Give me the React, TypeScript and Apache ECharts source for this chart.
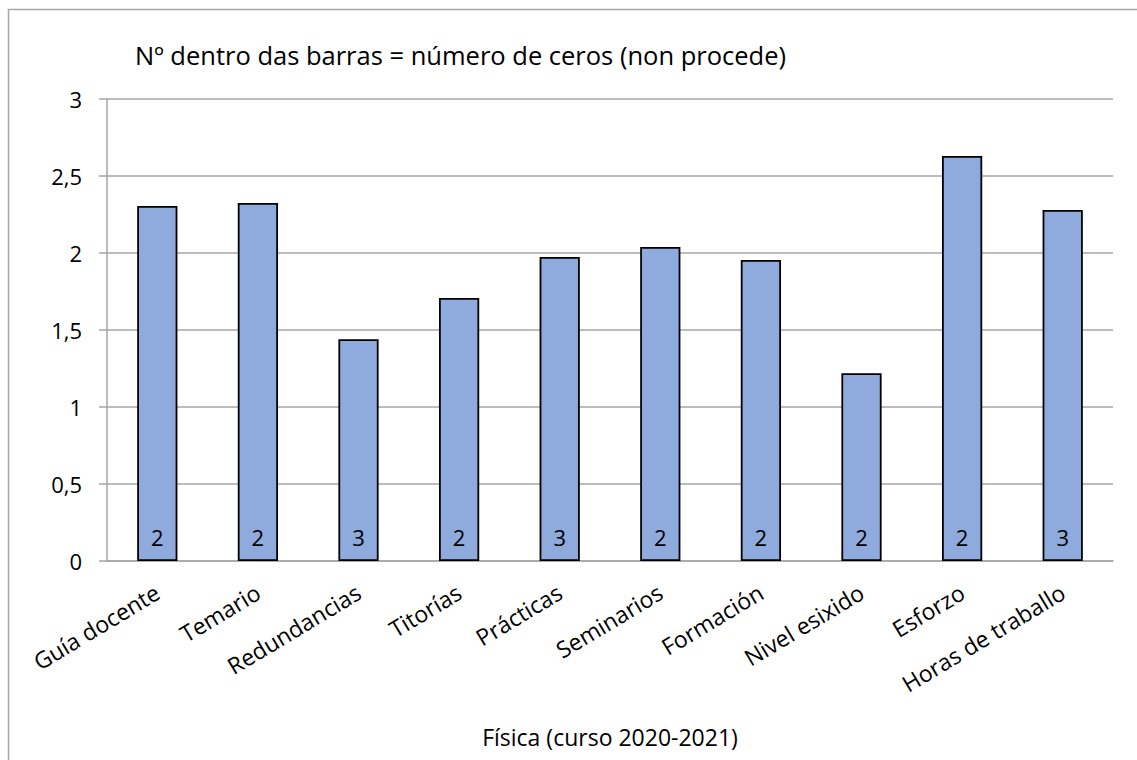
import React, { useEffect, useRef } from "react";
import * as echarts from "echarts";

const categories = [
  "Guía docente",
  "Temario",
  "Redundancias",
  "Titorías",
  "Prácticas",
  "Seminarios",
  "Formación",
  "Nivel esixido",
  "Esforzo",
  "Horas de traballo",
];
const values = [2.305, 2.325, 1.44, 1.708, 1.974, 2.039, 1.955, 1.219, 2.63, 2.279];
const zeros = [2, 2, 3, 2, 3, 2, 2, 2, 2, 3];
const yTicks = { min: 0, max: 3, interval: 0.5 };
const titleText = "Nº dentro das barras = número de ceros (non procede)";
const axisName = "Física (curso 2020-2021)";

const FONT = "'Open Sans', 'Noto Sans', sans-serif";

export default function App() {
  const ref = useRef<HTMLDivElement>(null);
  useEffect(() => {
    if (!ref.current) return;
    const chart = echarts.init(ref.current, null, { renderer: "svg" });
    chart.setOption({
      animation: false,
      backgroundColor: "#ffffff",
      textStyle: { fontFamily: FONT },
      title: {
        text: titleText,
        left: 130,
        top: 37,
        textStyle: { fontFamily: FONT, fontSize: 25.5, fontWeight: "normal", color: "#000" },
      },
      graphic: [
        {
          type: "rect",
          shape: { x: 8.5, y: 9.5, width: 1160, height: 780 },
          style: { fill: "none", stroke: "#a6a6a6", lineWidth: 1.5 },
          silent: true,
        },
        {
          type: "text",
          x: 610,
          y: 737,
          style: {
            text: axisName,
            fontFamily: FONT,
            fontSize: 23,
            fill: "#000",
            align: "center",
            verticalAlign: "middle",
          },
        },
      ],
      grid: { left: 107, right: 24, top: 99, bottom: 199, containLabel: false },
      xAxis: {
        type: "category",
        data: categories,
        axisTick: { show: false },
        axisLine: { show: true, lineStyle: { color: "#a6a6a6", width: 1.5 } },
        axisLabel: {
          rotate: 31,
          margin: 29,
          fontFamily: FONT,
          fontSize: 23,
          color: "#000",
          interval: 0,
        },
      },
      yAxis: {
        type: "value",
        min: yTicks.min,
        max: yTicks.max,
        interval: yTicks.interval,
        axisLine: { show: true, lineStyle: { color: "#a6a6a6", width: 1.5 } },
        axisTick: { show: true, length: 8, lineStyle: { color: "#a6a6a6", width: 1.5 } },
        splitLine: { show: true, lineStyle: { color: "#a6a6a6", width: 1.5 } },
        axisLabel: {
          margin: 25,
          fontFamily: FONT,
          fontSize: 22,
          color: "#000",
          formatter: (v: number) => String(v).replace(".", ","),
        },
      },
      series: [
        {
          type: "bar",
          data: values,
          barCategoryGap: "60%",
          itemStyle: { color: "#8faadc", borderColor: "#000", borderWidth: 1.8 },
          label: {
            show: true,
            position: "insideBottom",
            distance: 13,
            fontFamily: FONT,
            fontSize: 22,
            color: "#000",
            formatter: (p: any) => String(zeros[p.dataIndex]),
          },
        },
      ],
    });
    return () => chart.dispose();
  }, []);
  return (
    <div
      ref={ref}
      style={{ position: "fixed", left: 0, top: 0, width: 1137, height: 760 }}
    />
  );
}
